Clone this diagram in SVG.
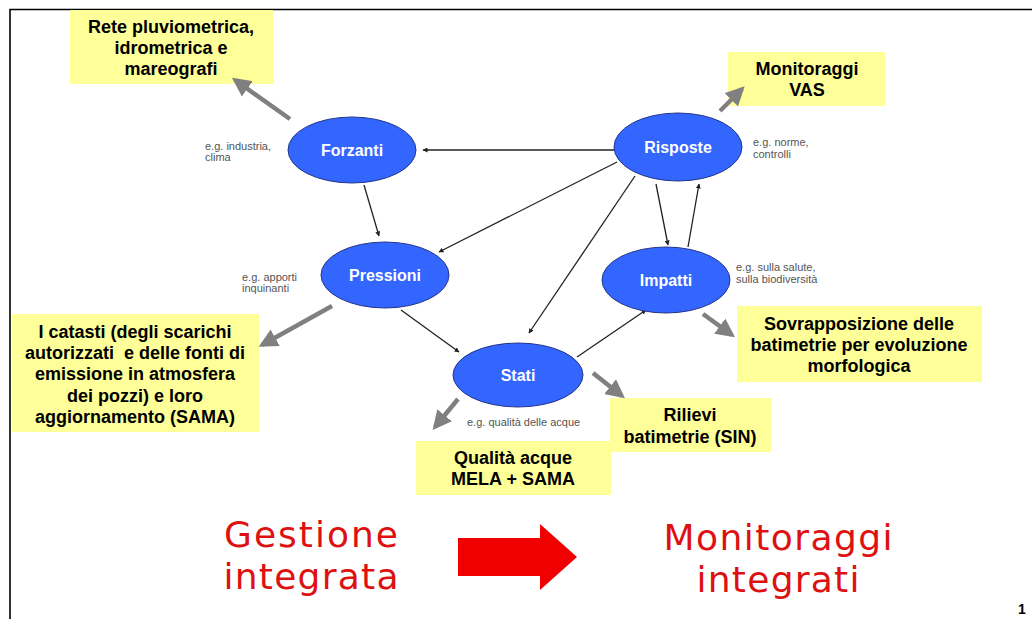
<svg xmlns="http://www.w3.org/2000/svg" width="1032" height="619" viewBox="0 0 1032 619">
<style>
.box{fill:#FFFF99}
.bt{font-family:"Liberation Sans",Arial,sans-serif;font-weight:bold;font-size:18px;fill:#000;text-anchor:middle}
.ell{fill:#3366FF;stroke:#24358a;stroke-width:1}
.et{font-family:"Liberation Sans",Arial,sans-serif;font-weight:bold;font-size:16px;fill:#fff;text-anchor:middle}
.eg{font-family:"Liberation Sans",Arial,sans-serif;font-size:11px;fill:#555}
.c{stroke:#222;stroke-width:1.3;fill:none;marker-end:url(#ah)}
.g{stroke:#808080;stroke-width:4.5;fill:none;marker-end:url(#gh)}
.red{font-family:"DejaVu Sans",Verdana,sans-serif;font-size:36px;fill:#DD1111;text-anchor:middle}
</style>
<defs>
<marker id="ah" viewBox="0 0 10 10" refX="9" refY="5" markerWidth="5" markerHeight="5" markerUnits="userSpaceOnUse" orient="auto"><path d="M0,0L10,5L0,10z" fill="#222"/></marker>
<marker id="gh" viewBox="0 0 10 10" refX="8" refY="5" markerWidth="4.2" markerHeight="4.2" orient="auto"><path d="M0,0L10,5L0,10z" fill="#808080"/></marker>
</defs>
<path d="M10,619V9.5H1032" fill="none" stroke="#000" stroke-width="1.6"/>

<g id="box-rete"><rect class="box" x="70" y="10" width="203" height="74"/><text class="bt" x="171" y="33">Rete pluviometrica,</text><text class="bt" x="171" y="54">idrometrica e</text><text class="bt" x="171" y="75">mareografi</text></g>
<g id="box-vas"><rect class="box" x="728" y="52" width="157" height="54"/><text class="bt" x="807" y="75">Monitoraggi</text><text class="bt" x="807" y="96">VAS</text></g>
<g id="box-catasti"><rect class="box" x="12" y="314" width="247" height="118"/><text class="bt" x="135" y="338">I catasti (degli scarichi</text><text class="bt" x="135" y="359" xml:space="preserve">autorizzati  e delle fonti di</text><text class="bt" x="135" y="380">emissione in atmosfera</text><text class="bt" x="135" y="402">dei pozzi) e loro</text><text class="bt" x="135" y="423">aggiornamento (SAMA)</text></g>
<g id="box-sovr"><rect class="box" x="737" y="306" width="245" height="76"/><text class="bt" x="859" y="330">Sovrapposizione delle</text><text class="bt" x="859" y="351">batimetrie per evoluzione</text><text class="bt" x="859" y="372">morfologica</text></g>
<g id="box-rilievi"><rect class="box" x="610" y="398" width="161" height="54"/><text class="bt" x="690" y="421">Rilievi</text><text class="bt" x="690" y="443">batimetrie (SIN)</text></g>
<g id="box-qualita"><rect class="box" x="416" y="441" width="195" height="54"/><text class="bt" x="513" y="464">Qualità acque</text><text class="bt" x="513" y="485">MELA + SAMA</text></g>

<g id="connectors">
<line class="c" x1="614" y1="150" x2="423" y2="150"/>
<line class="c" x1="364" y1="185" x2="379" y2="236"/>
<line class="c" x1="617" y1="162" x2="439" y2="252"/>
<line class="c" x1="635" y1="176" x2="529" y2="333"/>
<line class="c" x1="401" y1="310" x2="459" y2="352"/>
<line class="c" x1="577" y1="357" x2="646" y2="310"/>
<line class="c" x1="656" y1="184" x2="668" y2="245"/>
<line class="c" x1="688" y1="247" x2="699" y2="184"/>
<line class="g" x1="290" y1="119" x2="235" y2="80"/>
<line class="g" x1="720" y1="111" x2="742" y2="89"/>
<line class="g" x1="332" y1="306" x2="262" y2="345"/>
<line class="g" x1="458" y1="399" x2="435" y2="427"/>
<line class="g" x1="593" y1="373" x2="622" y2="396"/>
<line class="g" x1="703" y1="314" x2="732" y2="335"/>
</g>

<g id="forzanti"><ellipse class="ell" cx="352" cy="150" rx="64" ry="33"/><text class="et" x="352" y="156">Forzanti</text></g>
<g id="risposte"><ellipse class="ell" cx="678" cy="147" rx="64" ry="34"/><text class="et" x="678" y="153">Risposte</text></g>
<g id="pressioni"><ellipse class="ell" cx="385" cy="275" rx="64" ry="33"/><text class="et" x="385" y="281">Pressioni</text></g>
<g id="impatti"><ellipse class="ell" cx="666" cy="280" rx="64" ry="33"/><text class="et" x="666" y="286">Impatti</text></g>
<g id="stati"><ellipse class="ell" cx="518" cy="375" rx="65" ry="32"/><text class="et" x="518" y="381">Stati</text></g>

<g id="labels">
<text class="eg" x="205" y="150">e.g. industria,</text><text class="eg" x="205" y="161">clima</text>
<text class="eg" x="242" y="281">e.g. apporti</text><text class="eg" x="242" y="292">inquinanti</text>
<text class="eg" x="753" y="146">e.g. norme,</text><text class="eg" x="753" y="158">controlli</text>
<text class="eg" x="736" y="271">e.g. sulla salute,</text><text class="eg" x="736" y="283">sulla biodiversità</text>
<text class="eg" x="467" y="426">e.g. qualità delle acque</text>
</g>

<g id="bottom">
<text class="red" x="311" y="547" textLength="174" lengthAdjust="spacing">Gestione</text>
<text class="red" x="311" y="589" textLength="175" lengthAdjust="spacing">integrata</text>
<path d="M458,538H540V524L577,557L540,590V576H458z" fill="#F00000"/>
<text class="red" x="778" y="550" textLength="229" lengthAdjust="spacing">Monitoraggi</text>
<text class="red" x="778" y="592" textLength="163" lengthAdjust="spacing">integrati</text>
<text x="1022" y="614" font-family="Liberation Sans,Arial,sans-serif" font-weight="bold" font-size="14" text-anchor="middle">1</text>
</g>
</svg>
